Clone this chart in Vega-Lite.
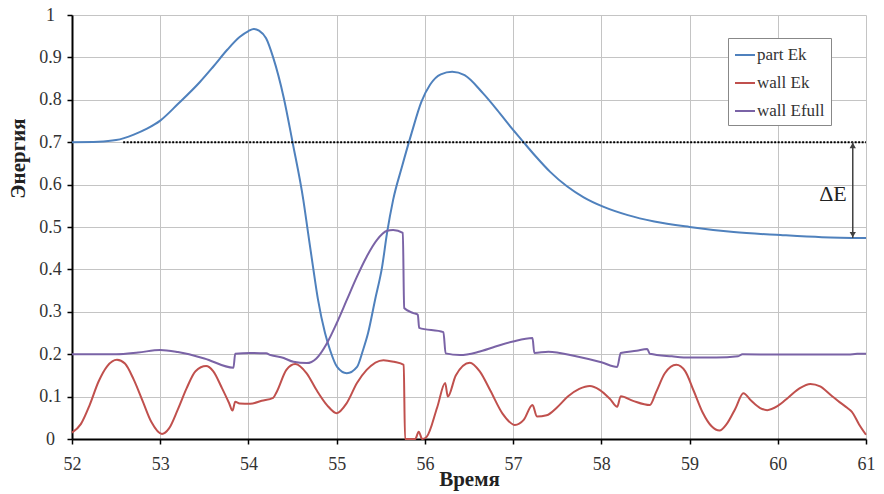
{
  "$schema": "https://vega.github.io/schema/vega-lite/v6.json",
  "width": 794,
  "height": 424,
  "autosize": {"type": "none"},
  "padding": {"left": 72, "top": 15, "right": 18, "bottom": 55},
  "background": "white",
  "config": {
    "view": {"stroke": null},
    "font": "Liberation Serif",
    "axis": {"labelFont": "Liberation Serif", "titleFont": "Liberation Serif"},
    "legend": {"labelFont": "Liberation Serif"},
    "text": {"font": "Liberation Serif"}
  },
  "datasets": {
    "lines": [
      {"series": "part Ek", "time": 52.0, "energy": 0.700},
      {"series": "part Ek", "time": 52.3, "energy": 0.701},
      {"series": "part Ek", "time": 52.5, "energy": 0.705},
      {"series": "part Ek", "time": 52.7, "energy": 0.718},
      {"series": "part Ek", "time": 52.85, "energy": 0.732},
      {"series": "part Ek", "time": 53.0, "energy": 0.751},
      {"series": "part Ek", "time": 53.2, "energy": 0.790},
      {"series": "part Ek", "time": 53.45, "energy": 0.842},
      {"series": "part Ek", "time": 53.6, "energy": 0.878},
      {"series": "part Ek", "time": 53.76, "energy": 0.918},
      {"series": "part Ek", "time": 53.9, "energy": 0.948},
      {"series": "part Ek", "time": 54.0, "energy": 0.962},
      {"series": "part Ek", "time": 54.06, "energy": 0.967},
      {"series": "part Ek", "time": 54.12, "energy": 0.963},
      {"series": "part Ek", "time": 54.2, "energy": 0.945},
      {"series": "part Ek", "time": 54.28, "energy": 0.900},
      {"series": "part Ek", "time": 54.4, "energy": 0.805},
      {"series": "part Ek", "time": 54.5, "energy": 0.700},
      {"series": "part Ek", "time": 54.622, "energy": 0.564},
      {"series": "part Ek", "time": 54.676, "energy": 0.486},
      {"series": "part Ek", "time": 54.732, "energy": 0.406},
      {"series": "part Ek", "time": 54.789, "energy": 0.328},
      {"series": "part Ek", "time": 54.868, "energy": 0.250},
      {"series": "part Ek", "time": 54.925, "energy": 0.210},
      {"series": "part Ek", "time": 55.005, "energy": 0.170},
      {"series": "part Ek", "time": 55.115, "energy": 0.155},
      {"series": "part Ek", "time": 55.231, "energy": 0.170},
      {"series": "part Ek", "time": 55.299, "energy": 0.210},
      {"series": "part Ek", "time": 55.356, "energy": 0.250},
      {"series": "part Ek", "time": 55.435, "energy": 0.328},
      {"series": "part Ek", "time": 55.515, "energy": 0.406},
      {"series": "part Ek", "time": 55.571, "energy": 0.486},
      {"series": "part Ek", "time": 55.64, "energy": 0.564},
      {"series": "part Ek", "time": 55.74, "energy": 0.642},
      {"series": "part Ek", "time": 55.85, "energy": 0.722},
      {"series": "part Ek", "time": 55.96, "energy": 0.795},
      {"series": "part Ek", "time": 56.06, "energy": 0.836},
      {"series": "part Ek", "time": 56.18, "energy": 0.860},
      {"series": "part Ek", "time": 56.31, "energy": 0.866},
      {"series": "part Ek", "time": 56.45, "energy": 0.858},
      {"series": "part Ek", "time": 56.66, "energy": 0.815},
      {"series": "part Ek", "time": 56.85, "energy": 0.768},
      {"series": "part Ek", "time": 57.0, "energy": 0.729},
      {"series": "part Ek", "time": 57.11, "energy": 0.702},
      {"series": "part Ek", "time": 57.25, "energy": 0.668},
      {"series": "part Ek", "time": 57.42, "energy": 0.630},
      {"series": "part Ek", "time": 57.61, "energy": 0.596},
      {"series": "part Ek", "time": 57.8, "energy": 0.570},
      {"series": "part Ek", "time": 58.02, "energy": 0.548},
      {"series": "part Ek", "time": 58.3, "energy": 0.528},
      {"series": "part Ek", "time": 58.6, "energy": 0.513},
      {"series": "part Ek", "time": 59.0, "energy": 0.500},
      {"series": "part Ek", "time": 59.5, "energy": 0.488},
      {"series": "part Ek", "time": 60.03, "energy": 0.481},
      {"series": "part Ek", "time": 60.5, "energy": 0.476},
      {"series": "part Ek", "time": 61.0, "energy": 0.474},

      {"series": "wall Ek", "time": 52.0, "energy": 0.015},
      {"series": "wall Ek", "time": 52.1, "energy": 0.035},
      {"series": "wall Ek", "time": 52.2, "energy": 0.08},
      {"series": "wall Ek", "time": 52.3, "energy": 0.135},
      {"series": "wall Ek", "time": 52.4, "energy": 0.172},
      {"series": "wall Ek", "time": 52.51, "energy": 0.187},
      {"series": "wall Ek", "time": 52.6, "energy": 0.178},
      {"series": "wall Ek", "time": 52.7, "energy": 0.14},
      {"series": "wall Ek", "time": 52.8, "energy": 0.09},
      {"series": "wall Ek", "time": 52.9, "energy": 0.04},
      {"series": "wall Ek", "time": 53.02, "energy": 0.012},
      {"series": "wall Ek", "time": 53.1, "energy": 0.025},
      {"series": "wall Ek", "time": 53.2, "energy": 0.07},
      {"series": "wall Ek", "time": 53.3, "energy": 0.12},
      {"series": "wall Ek", "time": 53.4, "energy": 0.16},
      {"series": "wall Ek", "time": 53.52, "energy": 0.172},
      {"series": "wall Ek", "time": 53.6, "energy": 0.16},
      {"series": "wall Ek", "time": 53.7, "energy": 0.12},
      {"series": "wall Ek", "time": 53.78, "energy": 0.085},
      {"series": "wall Ek", "time": 53.82, "energy": 0.067},
      {"series": "wall Ek", "time": 53.85, "energy": 0.088},
      {"series": "wall Ek", "time": 53.9, "energy": 0.084},
      {"series": "wall Ek", "time": 54.02, "energy": 0.083},
      {"series": "wall Ek", "time": 54.15, "energy": 0.090},
      {"series": "wall Ek", "time": 54.28, "energy": 0.097},
      {"series": "wall Ek", "time": 54.32, "energy": 0.111},
      {"series": "wall Ek", "time": 54.43, "energy": 0.163},
      {"series": "wall Ek", "time": 54.53, "energy": 0.177},
      {"series": "wall Ek", "time": 54.66, "energy": 0.155},
      {"series": "wall Ek", "time": 54.77, "energy": 0.116},
      {"series": "wall Ek", "time": 54.89, "energy": 0.08},
      {"series": "wall Ek", "time": 55.0, "energy": 0.061},
      {"series": "wall Ek", "time": 55.115, "energy": 0.085},
      {"series": "wall Ek", "time": 55.23, "energy": 0.132},
      {"series": "wall Ek", "time": 55.34, "energy": 0.163},
      {"series": "wall Ek", "time": 55.53, "energy": 0.186},
      {"series": "wall Ek", "time": 55.65, "energy": 0.182},
      {"series": "wall Ek", "time": 55.76, "energy": 0.175},
      {"series": "wall Ek", "time": 55.775, "energy": 0.0},
      {"series": "wall Ek", "time": 55.89, "energy": 0.0},
      {"series": "wall Ek", "time": 55.93, "energy": 0.017},
      {"series": "wall Ek", "time": 55.97, "energy": 0.0},
      {"series": "wall Ek", "time": 56.02, "energy": 0.005},
      {"series": "wall Ek", "time": 56.14, "energy": 0.075},
      {"series": "wall Ek", "time": 56.23, "energy": 0.132},
      {"series": "wall Ek", "time": 56.26, "energy": 0.10},
      {"series": "wall Ek", "time": 56.35, "energy": 0.15},
      {"series": "wall Ek", "time": 56.51, "energy": 0.18},
      {"series": "wall Ek", "time": 56.62, "energy": 0.16},
      {"series": "wall Ek", "time": 56.74, "energy": 0.115},
      {"series": "wall Ek", "time": 56.88, "energy": 0.06},
      {"series": "wall Ek", "time": 57.02, "energy": 0.033},
      {"series": "wall Ek", "time": 57.12, "energy": 0.045},
      {"series": "wall Ek", "time": 57.22, "energy": 0.08},
      {"series": "wall Ek", "time": 57.27, "energy": 0.053},
      {"series": "wall Ek", "time": 57.38, "energy": 0.056},
      {"series": "wall Ek", "time": 57.5, "energy": 0.075},
      {"series": "wall Ek", "time": 57.62, "energy": 0.100},
      {"series": "wall Ek", "time": 57.75, "energy": 0.118},
      {"series": "wall Ek", "time": 57.87, "energy": 0.125},
      {"series": "wall Ek", "time": 57.98, "energy": 0.116},
      {"series": "wall Ek", "time": 58.1, "energy": 0.094},
      {"series": "wall Ek", "time": 58.18, "energy": 0.076},
      {"series": "wall Ek", "time": 58.22, "energy": 0.101},
      {"series": "wall Ek", "time": 58.36, "energy": 0.09},
      {"series": "wall Ek", "time": 58.55, "energy": 0.08},
      {"series": "wall Ek", "time": 58.62, "energy": 0.11},
      {"series": "wall Ek", "time": 58.72, "energy": 0.155},
      {"series": "wall Ek", "time": 58.85, "energy": 0.175},
      {"series": "wall Ek", "time": 58.95, "energy": 0.16},
      {"series": "wall Ek", "time": 59.05, "energy": 0.112},
      {"series": "wall Ek", "time": 59.15, "energy": 0.062},
      {"series": "wall Ek", "time": 59.25, "energy": 0.03},
      {"series": "wall Ek", "time": 59.34, "energy": 0.02},
      {"series": "wall Ek", "time": 59.42, "energy": 0.035},
      {"series": "wall Ek", "time": 59.52, "energy": 0.072},
      {"series": "wall Ek", "time": 59.61, "energy": 0.108},
      {"series": "wall Ek", "time": 59.7, "energy": 0.09},
      {"series": "wall Ek", "time": 59.8, "energy": 0.073},
      {"series": "wall Ek", "time": 59.88, "energy": 0.068},
      {"series": "wall Ek", "time": 60.0, "energy": 0.078},
      {"series": "wall Ek", "time": 60.12, "energy": 0.098},
      {"series": "wall Ek", "time": 60.25, "energy": 0.120},
      {"series": "wall Ek", "time": 60.37, "energy": 0.130},
      {"series": "wall Ek", "time": 60.48, "energy": 0.124},
      {"series": "wall Ek", "time": 60.6, "energy": 0.104},
      {"series": "wall Ek", "time": 60.7, "energy": 0.087},
      {"series": "wall Ek", "time": 60.79, "energy": 0.073},
      {"series": "wall Ek", "time": 60.84, "energy": 0.064},
      {"series": "wall Ek", "time": 60.92, "energy": 0.035},
      {"series": "wall Ek", "time": 61.0, "energy": 0.01},

      {"series": "wall Efull", "time": 52.0, "energy": 0.200},
      {"series": "wall Efull", "time": 52.5, "energy": 0.200},
      {"series": "wall Efull", "time": 52.75, "energy": 0.204},
      {"series": "wall Efull", "time": 53.0, "energy": 0.210},
      {"series": "wall Efull", "time": 53.2, "energy": 0.205},
      {"series": "wall Efull", "time": 53.5, "energy": 0.190},
      {"series": "wall Efull", "time": 53.83, "energy": 0.168},
      {"series": "wall Efull", "time": 53.85, "energy": 0.201},
      {"series": "wall Efull", "time": 54.02, "energy": 0.203},
      {"series": "wall Efull", "time": 54.2, "energy": 0.202},
      {"series": "wall Efull", "time": 54.25, "energy": 0.198},
      {"series": "wall Efull", "time": 54.40, "energy": 0.191},
      {"series": "wall Efull", "time": 54.51, "energy": 0.182},
      {"series": "wall Efull", "time": 54.66, "energy": 0.179},
      {"series": "wall Efull", "time": 54.77, "energy": 0.190},
      {"series": "wall Efull", "time": 54.89, "energy": 0.226},
      {"series": "wall Efull", "time": 55.0, "energy": 0.273},
      {"series": "wall Efull", "time": 55.115, "energy": 0.328},
      {"series": "wall Efull", "time": 55.23, "energy": 0.383},
      {"series": "wall Efull", "time": 55.34, "energy": 0.430},
      {"series": "wall Efull", "time": 55.455, "energy": 0.469},
      {"series": "wall Efull", "time": 55.57, "energy": 0.491},
      {"series": "wall Efull", "time": 55.64, "energy": 0.493},
      {"series": "wall Efull", "time": 55.75, "energy": 0.486},
      {"series": "wall Efull", "time": 55.765, "energy": 0.309},
      {"series": "wall Efull", "time": 55.87, "energy": 0.297},
      {"series": "wall Efull", "time": 55.92, "energy": 0.293},
      {"series": "wall Efull", "time": 55.935, "energy": 0.262},
      {"series": "wall Efull", "time": 56.21, "energy": 0.252},
      {"series": "wall Efull", "time": 56.235, "energy": 0.202},
      {"series": "wall Efull", "time": 56.4, "energy": 0.198},
      {"series": "wall Efull", "time": 56.6, "energy": 0.205},
      {"series": "wall Efull", "time": 56.8, "energy": 0.218},
      {"series": "wall Efull", "time": 57.0, "energy": 0.230},
      {"series": "wall Efull", "time": 57.22, "energy": 0.238},
      {"series": "wall Efull", "time": 57.24, "energy": 0.203},
      {"series": "wall Efull", "time": 57.4, "energy": 0.206},
      {"series": "wall Efull", "time": 57.7, "energy": 0.196},
      {"series": "wall Efull", "time": 58.0, "energy": 0.181},
      {"series": "wall Efull", "time": 58.18, "energy": 0.170},
      {"series": "wall Efull", "time": 58.22, "energy": 0.203},
      {"series": "wall Efull", "time": 58.4, "energy": 0.208},
      {"series": "wall Efull", "time": 58.52, "energy": 0.212},
      {"series": "wall Efull", "time": 58.55, "energy": 0.201},
      {"series": "wall Efull", "time": 58.8, "energy": 0.195},
      {"series": "wall Efull", "time": 59.0, "energy": 0.192},
      {"series": "wall Efull", "time": 59.3, "energy": 0.192},
      {"series": "wall Efull", "time": 59.55, "energy": 0.195},
      {"series": "wall Efull", "time": 59.6, "energy": 0.200},
      {"series": "wall Efull", "time": 60.0, "energy": 0.199},
      {"series": "wall Efull", "time": 60.5, "energy": 0.199},
      {"series": "wall Efull", "time": 60.8, "energy": 0.199},
      {"series": "wall Efull", "time": 60.9, "energy": 0.201},
      {"series": "wall Efull", "time": 61.0, "energy": 0.201}
    ],
    "reference": [{"start": 52.58, "end": 61, "level": 0.7}],
    "delta": [{"time": 60.85, "top": 0.7, "bottom": 0.474}],
    "heads": [
      {"time": 60.85, "energy": 0.692, "end": "top"},
      {"time": 60.85, "energy": 0.482, "end": "bottom"}
    ],
    "labels": [{"time": 60.626, "energy": 0.578, "text": "ΔE"}]
  },
  "layer": [
    {
      "data": {"name": "lines"},
      "mark": {"type": "line", "strokeWidth": 2, "interpolate": "monotone"},
      "encoding": {
        "x": {
          "field": "time", "type": "quantitative", "title": "Время",
          "scale": {"domain": [52, 61], "nice": false, "zero": false},
          "axis": {
            "values": [52, 53, 54, 55, 56, 57, 58, 59, 60, 61],
            "format": "d",
            "grid": true, "gridColor": "#c4c4c4", "gridWidth": 1,
            "domainColor": "#000000", "domainWidth": 2,
            "tickColor": "#000000", "tickWidth": 1.5, "tickSize": 5,
            "labelFont": "Liberation Serif", "labelFontSize": 18, "labelColor": "#333333",
            "labelPadding": 11, "labelFlush": false,
            "titleFont": "Liberation Serif", "titleFontSize": 21,
            "titleFontWeight": "bold", "titleColor": "#222222",
            "titleY": 46, "titleBaseline": "alphabetic"
          }
        },
        "y": {
          "field": "energy", "type": "quantitative", "title": "Энергия",
          "scale": {"domain": [0, 1], "nice": false},
          "axis": {
            "values": [0, 0.1, 0.2, 0.3, 0.4, 0.5, 0.6, 0.7, 0.8, 0.9, 1],
            "format": "~g",
            "grid": true, "gridColor": "#c4c4c4", "gridWidth": 1,
            "domainColor": "#000000", "domainWidth": 2,
            "tickColor": "#000000", "tickWidth": 1.5, "tickSize": 5,
            "labelFont": "Liberation Serif", "labelFontSize": 18, "labelColor": "#333333",
            "labelAlign": "center", "labelBaseline": "middle", "labelPadding": 17,
            "titleFont": "Liberation Serif", "titleFontSize": 21,
            "titleFontWeight": "bold", "titleColor": "#222222",
            "titleX": -54, "titleY": 143, "titleAngle": 270,
            "titleAlign": "center", "titleBaseline": "middle"
          }
        },
        "color": {
          "field": "series", "type": "nominal",
          "scale": {"domain": ["part Ek", "wall Ek", "wall Efull"], "range": ["#4f81bd", "#c0504d", "#7a63a6"]},
          "legend": {
            "title": null, "orient": "none", "legendX": 656, "legendY": 23,
            "strokeColor": "#888888", "fillColor": "#ffffff", "padding": 6,
            "symbolType": "stroke", "symbolSize": 400, "symbolStrokeWidth": 2,
            "labelFont": "Liberation Serif", "labelFontSize": 17, "labelColor": "#333333",
            "labelOffset": 1, "rowPadding": 9
          }
        }
      }
    },
    {
      "data": {"name": "reference"},
      "mark": {"type": "rule", "color": "#000000", "strokeWidth": 2, "strokeDash": [2, 1.5]},
      "encoding": {
        "x": {"field": "start", "type": "quantitative", "title": "Время"},
        "x2": {"field": "end"},
        "y": {"field": "level", "type": "quantitative", "title": "Энергия"}
      }
    },
    {
      "data": {"name": "delta"},
      "mark": {"type": "rule", "color": "#404040", "strokeWidth": 1.5},
      "encoding": {
        "x": {"field": "time", "type": "quantitative", "title": "Время"},
        "y": {"field": "top", "type": "quantitative", "title": "Энергия"},
        "y2": {"field": "bottom"}
      }
    },
    {
      "data": {"name": "heads"},
      "mark": {"type": "point", "filled": true, "size": 40, "color": "#404040", "opacity": 1},
      "encoding": {
        "x": {"field": "time", "type": "quantitative", "title": "Время"},
        "y": {"field": "energy", "type": "quantitative", "title": "Энергия"},
        "shape": {"field": "end", "type": "nominal", "scale": {"domain": ["top", "bottom"], "range": ["triangle-up", "triangle-down"]}, "legend": null}
      }
    },
    {
      "data": {"name": "labels"},
      "mark": {"type": "text", "font": "Liberation Serif", "fontSize": 22, "color": "#222222", "align": "center", "baseline": "middle"},
      "encoding": {
        "x": {"field": "time", "type": "quantitative", "title": "Время"},
        "y": {"field": "energy", "type": "quantitative", "title": "Энергия"},
        "text": {"field": "text"}
      }
    }
  ]
}
